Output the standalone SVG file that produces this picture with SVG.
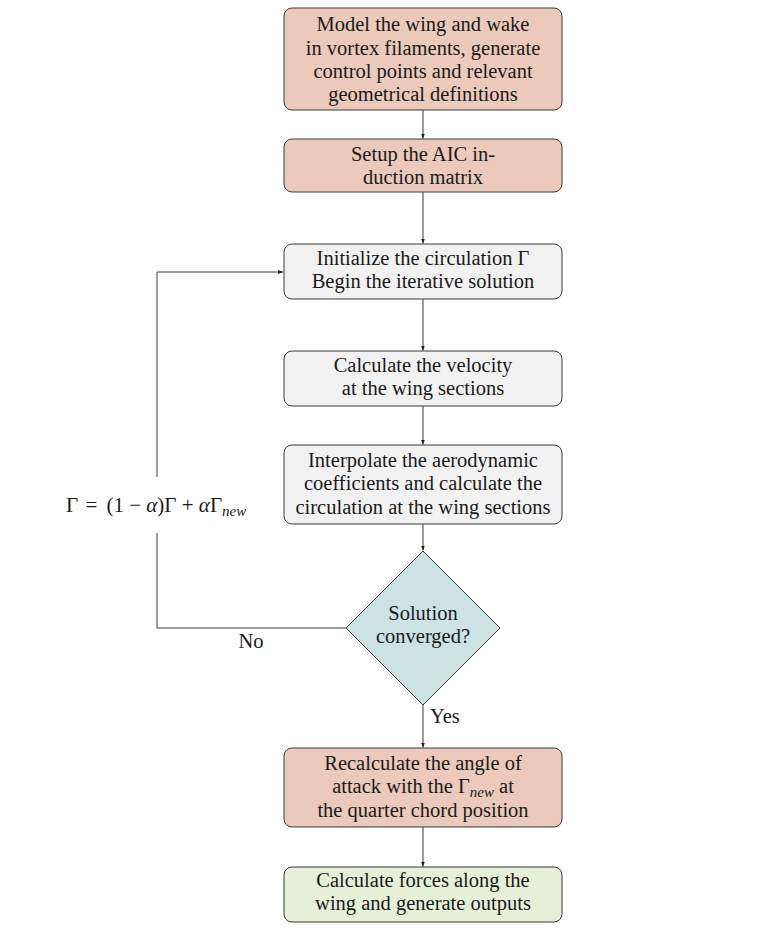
<svg xmlns="http://www.w3.org/2000/svg" width="772" height="930" viewBox="0 0 772 930">
<defs>
<style>
.box{stroke:#3a3a3a;stroke-width:1}
.red{fill:#ebcabb}
.grey{fill:#f2f2f2}
.blue{fill:#cde3e3}
.green{fill:#e6f0d9}
text{font-family:"Liberation Serif","Times New Roman",serif;font-size:20.5px;fill:#1a1a1a}
.c{text-anchor:middle}
.it{font-style:italic}
.sub{font-size:15px;font-style:italic}
.f{font-size:21px}
.conn{fill:none;stroke:#3a3a3a;stroke-width:1}
</style>
<marker id="arr" viewBox="0 0 10 10" refX="10" refY="5" markerWidth="5" markerHeight="5" orient="auto" markerUnits="userSpaceOnUse">
<path d="M0,1 L10,5 L0,9 Z" fill="#1a1a1a"/>
</marker>
</defs>
<rect width="772" height="930" fill="#ffffff"/>
<g id="connectors">
<line class="conn" x1="423" y1="110" x2="423" y2="138.5" marker-end="url(#arr)"/>
<line class="conn" x1="423" y1="192" x2="423" y2="243.5" marker-end="url(#arr)"/>
<line class="conn" x1="423" y1="299" x2="423" y2="350.5" marker-end="url(#arr)"/>
<line class="conn" x1="423" y1="406" x2="423" y2="444.5" marker-end="url(#arr)"/>
<line class="conn" x1="423" y1="524" x2="423" y2="550.5" marker-end="url(#arr)"/>
<line class="conn" x1="423" y1="705" x2="423" y2="747.5" marker-end="url(#arr)"/>
<line class="conn" x1="423" y1="827" x2="423" y2="866.5" marker-end="url(#arr)"/>
<polyline class="conn" points="346,628 157,628 157,533"/>
<polyline class="conn" points="157,477 157,272 283,272" marker-end="url(#arr)"/>
<text class="c" x="251" y="648">No</text>
<text x="430" y="723">Yes</text>
<text class="f" x="66" y="512">Γ <tspan dx="2">=</tspan> <tspan dx="4">(1</tspan> − <tspan class="it">α</tspan>)Γ + <tspan class="it">α</tspan>Γ<tspan class="sub" dy="4">new</tspan></text>
</g>
<g id="n1">
<rect class="box red" x="284" y="8" width="278" height="102" rx="8"/>
<text class="c" x="423" y="31">Model the wing and wake</text>
<text class="c" x="423" y="54.5">in vortex filaments, generate</text>
<text class="c" x="423" y="78">control points and relevant</text>
<text class="c" x="423" y="101">geometrical definitions</text>
</g>
<g id="n2">
<rect class="box red" x="284" y="139" width="278" height="53" rx="8"/>
<text class="c" x="423" y="160.5">Setup the AIC in-</text>
<text class="c" x="423" y="184">duction matrix</text>
</g>
<g id="n3">
<rect class="box grey" x="284" y="244" width="278" height="55" rx="8"/>
<text class="c" x="423" y="265">Initialize the circulation Γ</text>
<text class="c" x="423" y="288">Begin the iterative solution</text>
</g>
<g id="n4">
<rect class="box grey" x="284" y="351" width="278" height="55" rx="8"/>
<text class="c" x="423" y="372">Calculate the velocity</text>
<text class="c" x="423" y="395">at the wing sections</text>
</g>
<g id="n5">
<rect class="box grey" x="284" y="445" width="278" height="79" rx="8"/>
<text class="c" x="423" y="467">Interpolate the aerodynamic</text>
<text class="c" x="423" y="490">coefficients and calculate the</text>
<text class="c" x="423" y="513.5">circulation at the wing sections</text>
</g>
<g id="n6">
<polygon class="box blue" points="423,551 500,628 423,705 346,628"/>
<text class="c" x="423" y="620">Solution</text>
<text class="c" x="423" y="643">converged?</text>
</g>
<g id="n7">
<rect class="box red" x="284" y="748" width="278" height="79" rx="8"/>
<text class="c" x="423" y="770">Recalculate the angle of</text>
<text class="c" x="423" y="793">attack with the Γ<tspan class="sub" dy="4">new</tspan><tspan dy="-4"> at</tspan></text>
<text class="c" x="423" y="816.5">the quarter chord position</text>
</g>
<g id="n8">
<rect class="box green" x="284" y="867" width="278" height="55" rx="8"/>
<text class="c" x="423" y="887">Calculate forces along the</text>
<text class="c" x="423" y="910">wing and generate outputs</text>
</g>
</svg>
